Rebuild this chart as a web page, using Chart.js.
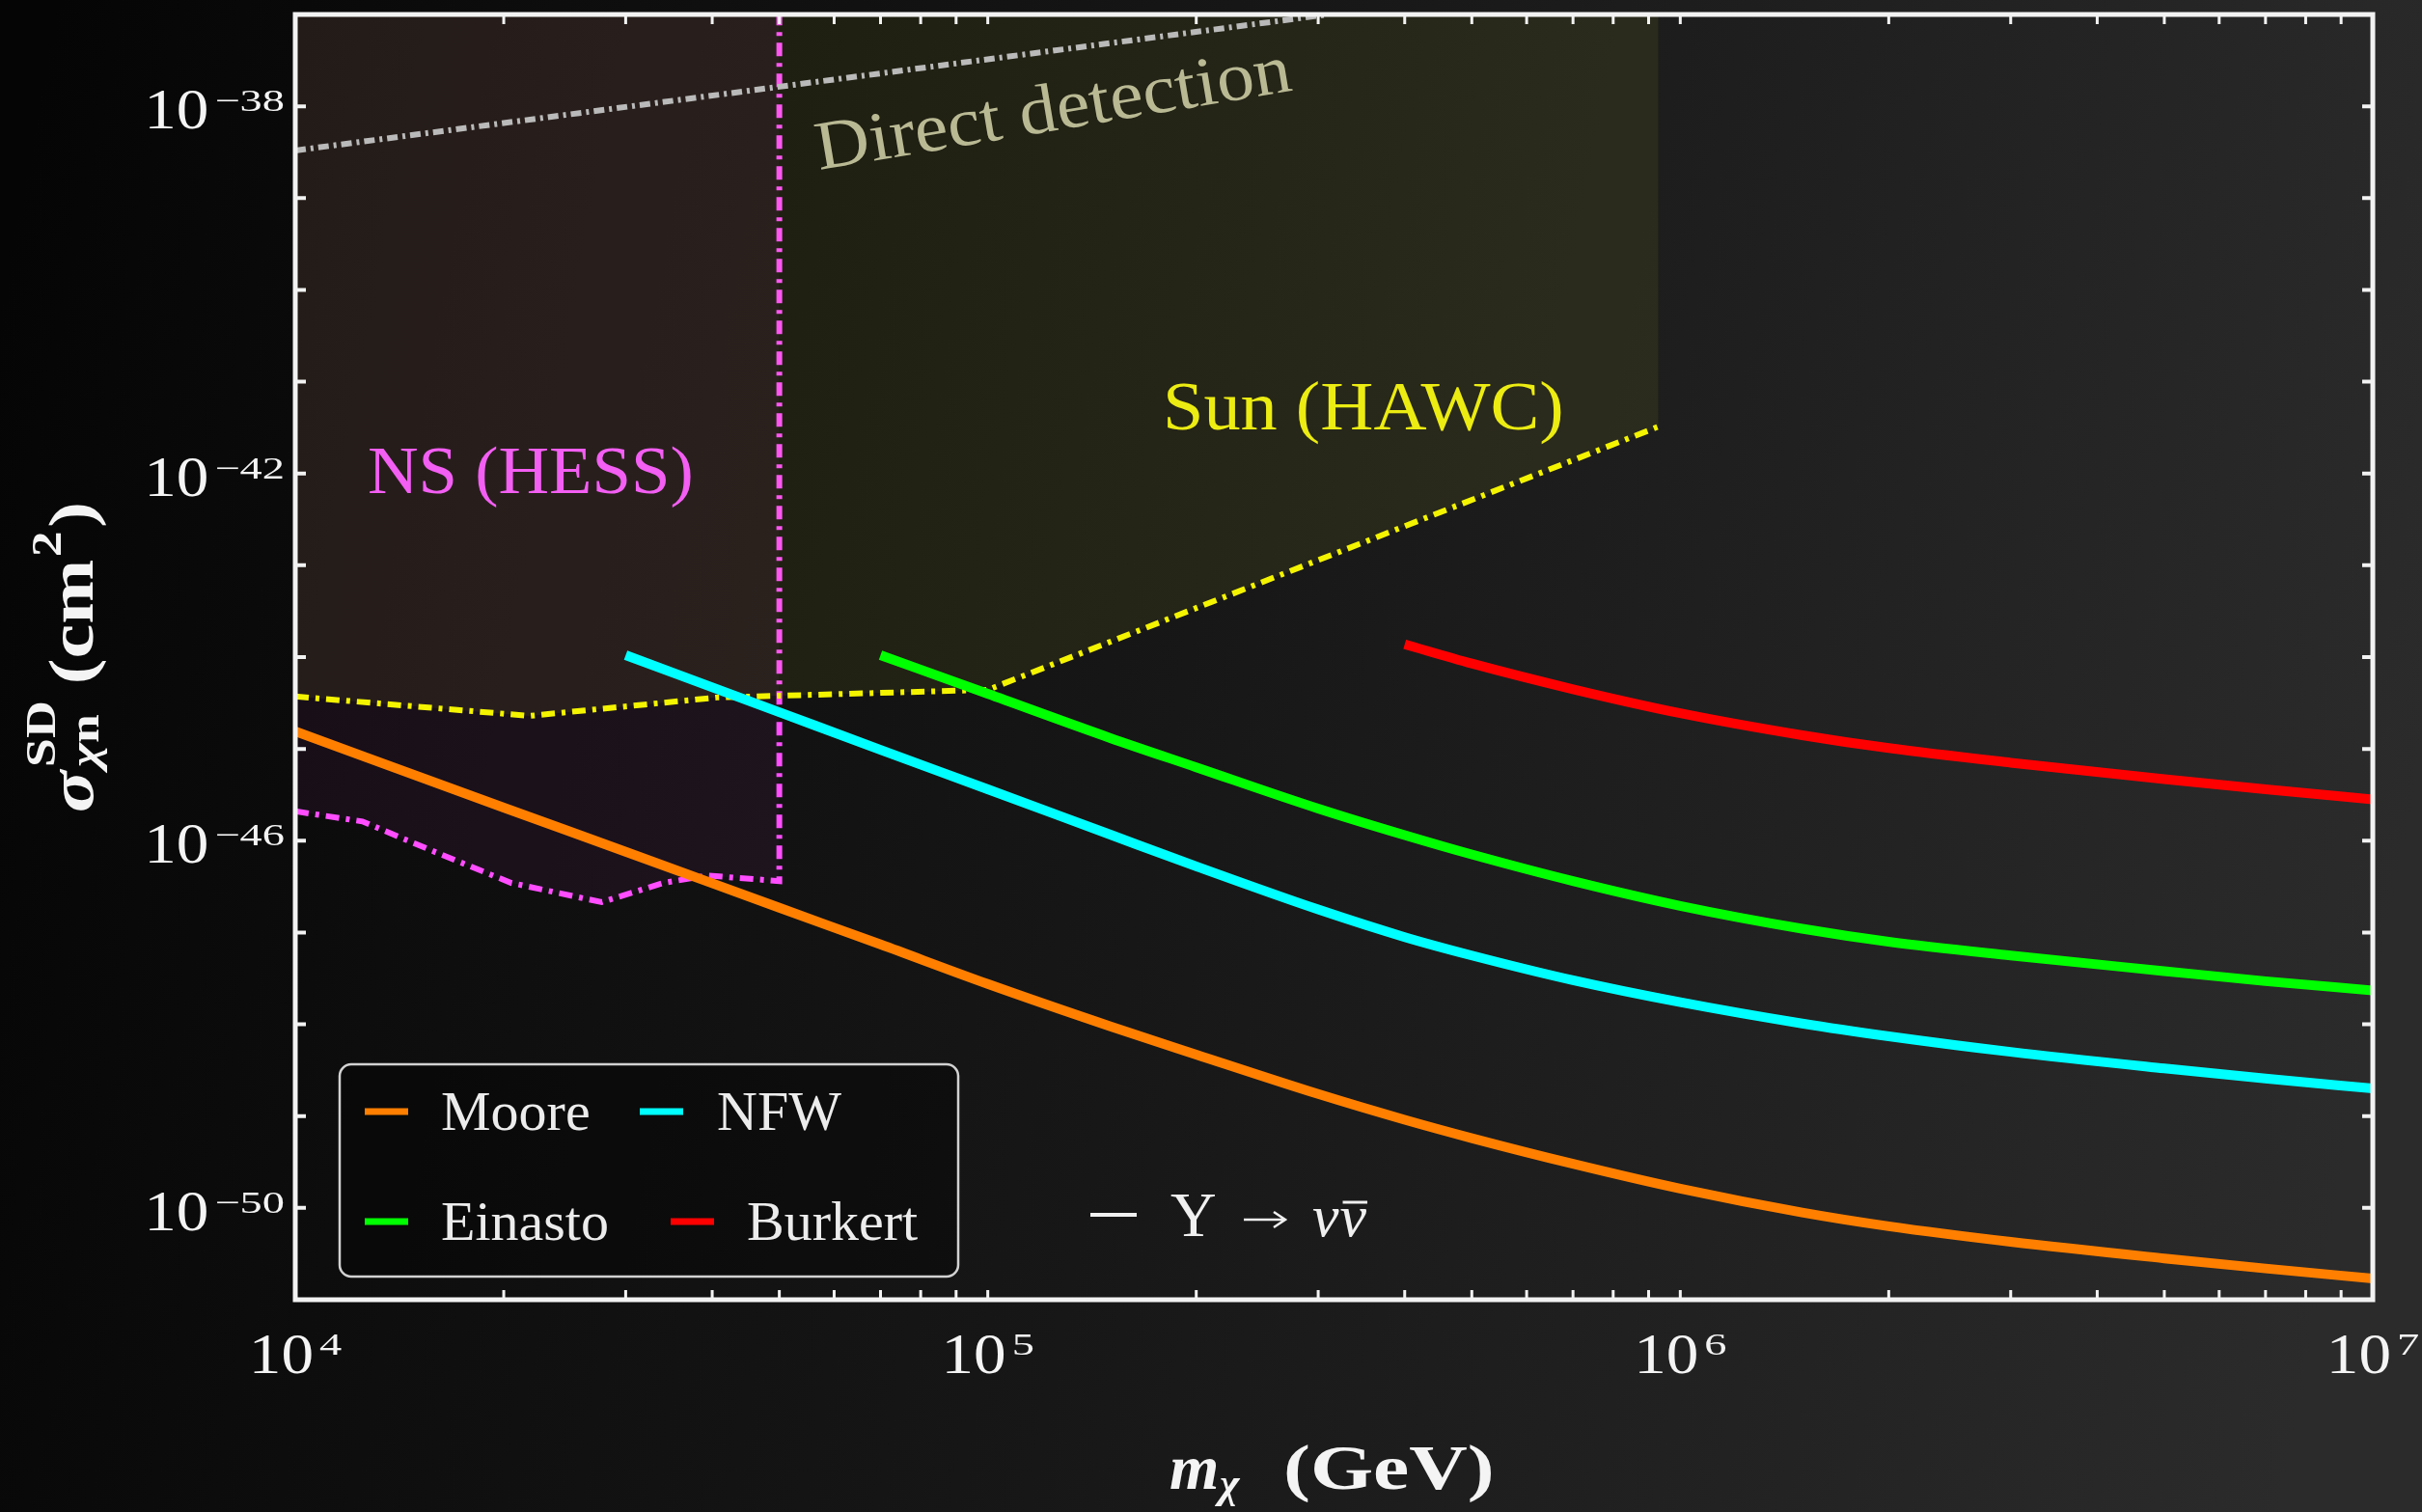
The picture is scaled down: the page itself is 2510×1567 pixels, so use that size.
<!DOCTYPE html>
<html>
<head>
<meta charset="utf-8">
<title>Spin-dependent cross-section limits</title>
<script src="https://cdn.jsdelivr.net/npm/chart.js@4.4.1/dist/chart.umd.min.js"></script>
<style>
  html, body { margin: 0; padding: 0; background: #0c0c0c; overflow: hidden; }
  #wrap { width: 2510px; height: 1567px; position: relative; }
</style>
</head>
<body>
<div id="wrap"><canvas id="limits"></canvas></div>
<script>
// dark matter mass grid (GeV) shared by the four halo-profile curves
const massGrid = [1e4, 2e4, 3e4, 5e4, 7e4, 1e5, 1.5e5, 2e5, 3e5, 4e5, 5e5, 7e5, 1e6, 1.5e6, 2e6, 3e6, 5e6, 7e6, 1e7];

// sigma_SD (cm^2), null where a curve is not drawn
const sigmaMoore = [1.55e-45, 2.29e-46, 7.59e-47, 1.86e-47, 7.41e-48, 2.75e-48, 9.55e-49, 4.68e-49, 1.74e-49, 9.12e-50,
  5.75e-50, 3.02e-50, 1.62e-50, 8.91e-51, 6.31e-51, 4.27e-51, 2.82e-51, 2.19e-51, 1.70e-51];
const sigmaNFW = [null, null, 1.05e-44, 2.51e-45, 9.77e-46, 3.63e-46, 1.17e-46, 5.25e-47, 1.78e-47, 8.91e-48,
  5.62e-48, 3.02e-48, 1.74e-48, 1.02e-48, 7.41e-49, 5.01e-49, 3.31e-49, 2.57e-49, 2.00e-49];
const sigmaEinasto = [null, null, null, null, 1.05e-44, 3.98e-45, 1.32e-45, 6.31e-46, 2.24e-46, 1.15e-46,
  7.08e-47, 3.63e-47, 1.95e-47, 1.10e-47, 7.94e-48, 5.62e-48, 3.80e-48, 2.95e-48, 2.34e-48];
const sigmaBurkert = [null, null, null, null, null, null, null, null, null, 1.38e-44,
  8.51e-45, 4.47e-45, 2.45e-45, 1.41e-45, 1.02e-45, 7.08e-46, 4.68e-46, 3.63e-46, 2.82e-46];

// existing bounds
const hawcMass = [1e4, 2.18e4, 4.06e4, 1e5, 9.3e5];
const hawcSigma = [3.72e-45, 2.29e-45, 3.63e-45, 4.4e-45, 3.24e-42];
const hessMass = [1e4, 1.25e4, 1.6e4, 2.05e4, 2.77e4, 3.4e4, 3.94e4, 5e4, 5e4];
const hessSigma = [2.09e-46, 1.62e-46, 7.41e-47, 3.47e-47, 2.14e-47, 3.47e-47, 4.17e-47, 3.63e-47, 1e-37];
const directMass = [1e4, 3.1e5];
const directSigma = [3.3e-39, 1e-37];

// tick labels, as powers of ten
const xTickExps = [4, 5, 6, 7];
const yTickExps = [-38, -42, -46, -50];

const SERIF = '"Liberation Serif", "DejaVu Serif", serif';
const INK = '#f4f4f4';

const pts = (xs, ys) => xs.map((x, i) => ({ x: x, y: ys[i] })).filter(p => p.y !== null);

const curve = (label, ys, color) => ({
    label: label,
    data: pts(massGrid, ys),
    borderColor: color,
    backgroundColor: color,
    borderWidth: 10,
    pointRadius: 0,
    fill: false,
    cubicInterpolationMode: 'monotone',
    borderCapStyle: 'butt',
    order: 1
});

function textAt(ctx, str, x, y, font, color, sx) {
    ctx.save();
    ctx.font = font;
    ctx.fillStyle = color;
    ctx.textBaseline = 'alphabetic';
    ctx.translate(x, y);
    ctx.scale(sx || 1, 1);
    ctx.fillText(str, 0, 0);
    const w = ctx.measureText(str).width * (sx || 1);
    ctx.restore();
    return w;
}

function powerLabel(ctx, exp, ax, baseY, supY, align) {
    const sup = exp < 0 ? '\u2212' + (-exp) : String(exp);
    ctx.font = '60px ' + SERIF;
    const wb = ctx.measureText('10').width * 1.12;
    ctx.font = '32px ' + SERIF;
    const ws = ctx.measureText(sup).width * 1.45;
    const total = wb + 6 + ws;
    const x0 = align === 'right' ? ax - total : ax - total / 2;
    textAt(ctx, '10', x0, baseY, '60px ' + SERIF, INK, 1.12);
    textAt(ctx, sup, x0 + wb + 6, supY, '32px ' + SERIF, INK, 1.45);
}

const decor = {
    id: 'decor',
    beforeDraw(chart) {
        const { ctx, width, height } = chart;
        const g = ctx.createLinearGradient(0, height * 0.2, width, height * 0.5);
        g.addColorStop(0, '#050505');
        g.addColorStop(0.2, '#0d0d0d');
        g.addColorStop(0.5, '#171717');
        g.addColorStop(0.8, '#232323');
        g.addColorStop(1, '#2b2b2b');
        ctx.save();
        ctx.fillStyle = g;
        ctx.fillRect(0, 0, width, height);
        ctx.restore();
    },
    afterDraw(chart) {
        const { ctx } = chart;
        const xs = chart.scales.x, ys = chart.scales.y;
        const { left, right, top, bottom } = chart.chartArea;

        ctx.save();
        ctx.strokeStyle = '#f2f2f2';
        ctx.lineCap = 'butt';

        // inward ticks on all four sides
        ctx.lineWidth = 3;
        ctx.beginPath();
        for (let d = 4; d < 7; d++) {
            for (let k = 1; k < 10; k++) {
                const px = xs.getPixelForValue(k * Math.pow(10, d));
                ctx.moveTo(px, bottom); ctx.lineTo(px, bottom - 10);
                ctx.moveTo(px, top); ctx.lineTo(px, top + 10);
            }
        }
        ctx.stroke();
        ctx.lineWidth = 4;
        ctx.beginPath();
        for (let e = -51; e <= -37; e++) {
            const py = ys.getPixelForValue(Math.pow(10, e));
            ctx.moveTo(left, py); ctx.lineTo(left + 11, py);
            ctx.moveTo(right, py); ctx.lineTo(right - 11, py);
        }
        ctx.stroke();

        // frame
        ctx.lineWidth = 5;
        ctx.strokeRect(left, top, right - left, bottom - top);
        ctx.restore();

        // tick labels
        xTickExps.forEach(e => powerLabel(ctx, e, xs.getPixelForValue(Math.pow(10, e)), 1423, 1404, 'center'));
        yTickExps.forEach(e => {
            const py = ys.getPixelForValue(Math.pow(10, e));
            powerLabel(ctx, e, 295, py + 23, py + 5, 'right');
        });

        // region labels
        textAt(ctx, 'NS (HESS)', 381, 511, '70px ' + SERIF, '#f35ef3', 1.04);
        textAt(ctx, 'Sun (HAWC)', 1205, 445, '72px ' + SERIF, '#ecec12', 1.06);
        ctx.save();
        ctx.translate(849, 176);
        ctx.rotate(-9.5 * Math.PI / 180);
        textAt(ctx, 'Direct detection', 0, 0, '72px ' + SERIF, '#b9b994', 1.08);
        ctx.restore();

        // legend box
        ctx.save();
        ctx.beginPath();
        ctx.roundRect(352, 1103, 641, 220, 12);
        ctx.fillStyle = 'rgba(0,0,0,0.3)';
        ctx.fill();
        ctx.lineWidth = 2.5;
        ctx.strokeStyle = '#d2d2d2';
        ctx.stroke();
        ctx.restore();

        const slots = [[378, 1152, 457], [663, 1152, 743], [378, 1266, 457], [695, 1266, 774]];
        chart.data.datasets.slice(0, 4).forEach((ds, i) => {
            const [sx, sy, tx] = slots[i];
            ctx.save();
            ctx.strokeStyle = ds.borderColor;
            ctx.lineWidth = 7;
            ctx.beginPath();
            ctx.moveTo(sx, sy); ctx.lineTo(sx + 45, sy);
            ctx.stroke();
            ctx.restore();
            textAt(ctx, ds.label, tx, sy + 19, '58px ' + SERIF, '#ececec', 1.0);
        });

        // channel annotation: dash, Y, arrow, nu nubar
        ctx.save();
        ctx.strokeStyle = '#f0f0f0';
        ctx.fillStyle = '#f0f0f0';
        ctx.lineWidth = 4;
        ctx.beginPath();
        ctx.moveTo(1130, 1259); ctx.lineTo(1178, 1259);
        ctx.stroke();
        ctx.lineWidth = 2.5;
        ctx.beginPath();
        ctx.moveTo(1289, 1264); ctx.lineTo(1330, 1264);
        ctx.moveTo(1320, 1256); ctx.lineTo(1332, 1264); ctx.lineTo(1320, 1272);
        ctx.stroke();
        ctx.restore();
        textAt(ctx, 'Y', 1213, 1281, '66px ' + SERIF, '#f0f0f0', 1.0);
        const wn = textAt(ctx, '\u03bd', 1360, 1281, 'italic 62px ' + SERIF, '#f0f0f0', 1.0);
        textAt(ctx, '\u03bd', 1360 + wn + 1, 1281, 'italic 62px ' + SERIF, '#f0f0f0', 1.0);
        ctx.save();
        ctx.strokeStyle = '#f0f0f0';
        ctx.lineWidth = 3;
        ctx.beginPath();
        ctx.moveTo(1364 + wn, 1246); ctx.lineTo(1362 + 2 * wn, 1246);
        ctx.stroke();
        ctx.restore();

        // x axis title
        textAt(ctx, 'm', 1212, 1543, 'italic bold 66px ' + SERIF, INK, 1.0);
        textAt(ctx, '\u03c7', 1264, 1552, 'italic bold 44px ' + SERIF, INK, 1.0);
        textAt(ctx, '(GeV)', 1330, 1543, 'bold 66px ' + SERIF, INK, 1.27);

        // y axis title
        ctx.save();
        ctx.translate(96, 842);
        ctx.rotate(-Math.PI / 2);
        ctx.scale(1.22, 1);
        let x = 0;
        x += textAt(ctx, '\u03c3', x, 0, 'italic bold 66px ' + SERIF, INK, 1.0) + 3;
        const wSD = textAt(ctx, 'SD', x, -39, 'bold 44px ' + SERIF, INK, 1.0);
        const wChi = textAt(ctx, '\u03c7', x, 6, 'italic bold 44px ' + SERIF, INK, 1.0);
        const wN = textAt(ctx, 'n', x + wChi, 6, 'bold 44px ' + SERIF, INK, 1.0);
        x += Math.max(wSD, wChi + wN) + 14;
        x += textAt(ctx, '(cm', x, 0, 'bold 66px ' + SERIF, INK, 1.0);
        x += textAt(ctx, '2', x + 2, -33, 'bold 44px ' + SERIF, INK, 1.0) + 5;
        textAt(ctx, ')', x, 0, 'bold 66px ' + SERIF, INK, 1.0);
        ctx.restore();
    }
};

new Chart(document.getElementById('limits'), {
    type: 'line',
    data: {
        datasets: [
            curve('Moore', sigmaMoore, '#ff7f00'),
            curve('NFW', sigmaNFW, '#00ffff'),
            curve('Einasto', sigmaEinasto, '#00ff00'),
            curve('Burkert', sigmaBurkert, '#ff0000'),
            {
                label: 'Direct detection',
                data: pts(directMass, directSigma),
                borderColor: '#bababa',
                borderWidth: 6,
                borderDash: [11, 5, 3, 5],
                pointRadius: 0,
                fill: false,
                order: 5
            },
            {
                label: 'Sun (HAWC)',
                data: pts(hawcMass, hawcSigma),
                borderColor: '#f4f400',
                backgroundColor: 'rgba(220,220,40,0.07)',
                borderWidth: 6,
                borderDash: [14, 7, 4, 7],
                pointRadius: 0,
                fill: 'end',
                order: 6
            },
            {
                label: 'NS (HESS)',
                data: pts(hessMass, hessSigma),
                borderColor: '#ff4dff',
                backgroundColor: 'rgba(180,60,200,0.07)',
                borderWidth: 6,
                borderDash: [14, 7, 4, 7],
                pointRadius: 0,
                fill: 'end',
                order: 7
            }
        ]
    },
    options: {
        responsive: true,
        maintainAspectRatio: false,
        animation: false,
        layout: { padding: { left: 306, top: 15, right: 51, bottom: 220 } },
        plugins: {
            legend: { display: false },
            tooltip: { enabled: false }
        },
        scales: {
            x: { type: 'logarithmic', min: 1e4, max: 1e7, display: false },
            y: { type: 'logarithmic', min: 1e-51, max: 1e-37, display: false }
        }
    },
    plugins: [decor]
});
</script>
</body>
</html>
